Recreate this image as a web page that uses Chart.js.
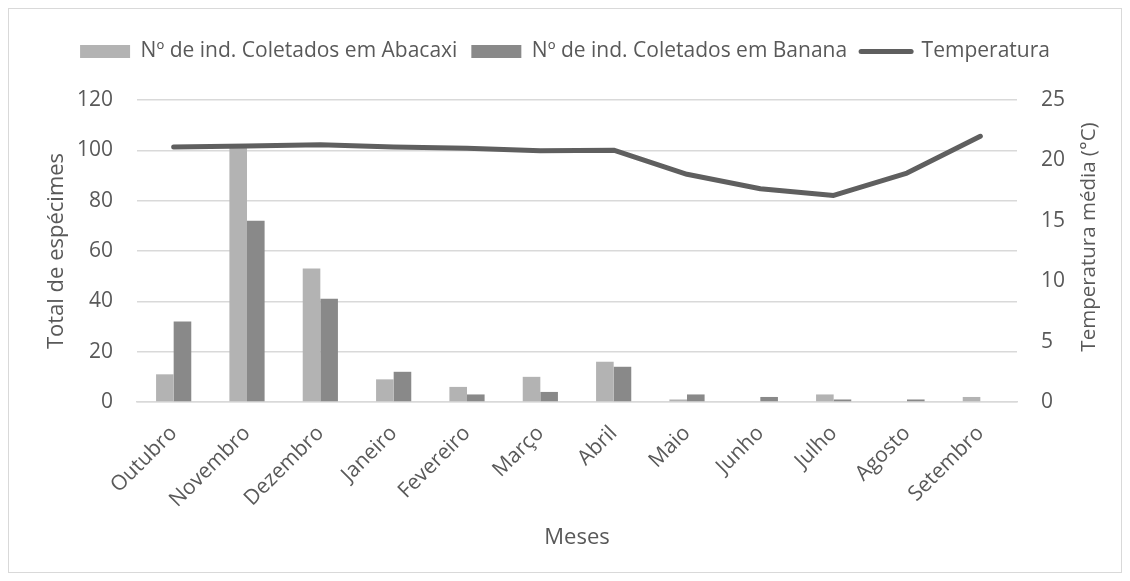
<!DOCTYPE html>
<html><head><meta charset="utf-8">
<script src="https://cdn.jsdelivr.net/npm/chart.js@4"></script>
<style>html,body{margin:0;padding:0;background:#fff}#wrap{width:1130px;height:581px;position:relative}</style>
</head><body><div id="wrap"><canvas id="c" width="1130" height="581"></canvas></div>
<script>
const months = ['Outubro','Novembro','Dezembro','Janeiro','Fevereiro','Março','Abril','Maio','Junho','Julho','Agosto','Setembro'];
const abacaxi = [11,101,53,9,6,10,16,1,0,3,0,2];
const banana = [32,72,41,12,3,4,14,3,2,1,1,0];
const temperatura = [21.1,21.2,21.3,21.1,21.0,20.8,20.85,18.85,17.65,17.1,18.95,22.0];
const leftTicks = [0,20,40,60,80,100,120];
const rightTicks = [0,5,10,15,20,25];
const rightTitle = 'Temperatura média (°C)';

const FONT = "'Open Sans', sans-serif";
const TXT = '#595959';
Chart.defaults.font.family = FONT;
Chart.defaults.color = TXT;

const PLOT_TOP = 100;

const layoutPlugin = {
  id:'layoutFix',
  beforeLayout(chart){
    const lg = chart.legend;
    if (lg && !lg._patched){
      const orig = lg.fit;
      lg.fit = function(){
        orig.call(this);
        this.height = PLOT_TOP - chart.options.layout.padding.top;
      };
      lg._patched = true;
    }
  },
  beforeDraw(chart){
    const ctx = chart.ctx;
    ctx.save();
    ctx.fillStyle='#fff';
    ctx.fillRect(0,0,chart.width,chart.height);
    ctx.strokeStyle='#d9d9d9';
    ctx.lineWidth=1;
    ctx.strokeRect(8.5,8.5,1113,564);
    ctx.restore();
  },
  afterDraw(chart){
    const ctx = chart.ctx;
    ctx.save();
    ctx.fillStyle = TXT;
    ctx.font = "20.5px 'Open Sans', sans-serif";
    ctx.textAlign='center';
    ctx.textBaseline='middle';
    ctx.translate(1089, 237);
    ctx.rotate(-Math.PI/2);
    ctx.fillText(rightTitle, 0, 0);
    ctx.restore();
  }
};

new Chart(document.getElementById('c'), {
  data:{
    labels: months,
    datasets:[
      {type:'line', label:'Temperatura', data:temperatura, yAxisID:'y1', borderColor:'#5f5f5f', backgroundColor:'#5f5f5f', borderWidth:5, pointRadius:0, tension:0, borderCapStyle:'round', borderJoinStyle:'round', order:0},
      {type:'bar', label:'Nº de ind. Coletados em Abacaxi', data:abacaxi, yAxisID:'y', backgroundColor:'#b3b3b3', categoryPercentage:0.48, barPercentage:1, order:1},
      {type:'bar', label:'Nº de ind. Coletados em Banana', data:banana, yAxisID:'y', backgroundColor:'#898989', categoryPercentage:0.48, barPercentage:1, order:2}
    ]
  },
  options:{
    responsive:false, animation:false, devicePixelRatio:1,
    layout:{padding:{left:10,right:10,top:27,bottom:8}},
    plugins:{
      tooltip:{enabled:false},
      legend:{
        position:'top',
        labels:{
          font:{size:21,family:FONT}, color:TXT, usePointStyle:true, pointStyleWidth:50, boxHeight:13, padding:14,
          generateLabels(chart){
            const ds = chart.data.datasets;
            const order = [1,2,0];
            return order.map(i=>({
              text: ds[i].label,
              datasetIndex:i,
              fillStyle: ds[i].backgroundColor,
              strokeStyle: ds[i].type==='line' ? ds[i].borderColor : ds[i].backgroundColor,
              lineWidth: ds[i].type==='line' ? 5 : 0,
              lineCap:'round',
              pointStyle: ds[i].type==='line' ? 'line' : 'rect',
              fontColor: TXT,
              hidden:false
            }));
          }
        }
      }
    },
    scales:{
      x:{
        grid:{display:false},
        border:{color:'#d9d9d9',width:1.5},
        afterFit(s){ s.height = 171; },
        ticks:{font:{size:21},color:TXT,minRotation:45,maxRotation:45,padding:11},
        title:{display:true,text:'Meses',font:{size:22},color:TXT,padding:{top:0,bottom:22}}
      },
      y:{
        position:'left', min:0, max:120,
        afterBuildTicks(s){ s.ticks = leftTicks.map(v=>({value:v})); },
        afterFit(s){ s.width = 127; },
        grid:{color:'#d9d9d9',lineWidth:1.5,drawTicks:false},
        border:{display:false},
        ticks:{font:{size:21},color:TXT,padding:24},
        title:{display:true,text:'Total de espécimes',font:{size:22},color:TXT,padding:{top:34,bottom:0}}
      },
      y1:{
        position:'right', min:0, max:25,
        afterBuildTicks(s){ s.ticks = rightTicks.map(v=>({value:v})); },
        afterFit(s){ s.width = 103; },
        grid:{display:false,drawTicks:false},
        border:{display:false},
        ticks:{font:{size:21},color:TXT,padding:24},
        title:{display:false}
      }
    }
  },
  plugins:[layoutPlugin]
});
</script></body></html>
